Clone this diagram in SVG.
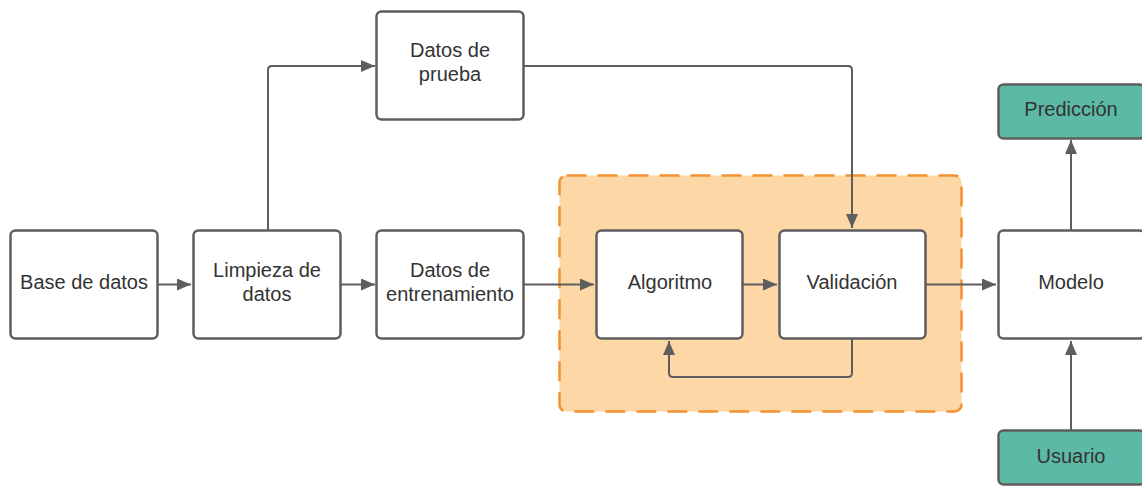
<svg xmlns="http://www.w3.org/2000/svg" width="1142" height="486" viewBox="0 0 1142 486">
<defs>
<style>
.box{fill:#ffffff;stroke:#5e5e5e;stroke-width:2.5}
.teal{fill:#5cb9a5;stroke:#5e5e5e;stroke-width:2.5}
.t{font-family:"Liberation Sans",Arial,sans-serif;font-size:20px;fill:#333333;text-anchor:middle}
.c{fill:none;stroke:#5e5e5e;stroke-width:2}
</style>
<marker id="ah" viewBox="0 0 14 12" refX="14" refY="6" markerWidth="14" markerHeight="12" markerUnits="userSpaceOnUse" orient="auto">
<path d="M0,0 L14,6 L0,12 Z" fill="#5e5e5e"/>
</marker>
</defs>
<rect width="1142" height="486" fill="#ffffff"/>
<g id="grupo">
<rect x="559.5" y="175.5" width="402" height="236" rx="7" fill="#fdd8a6" stroke="#f29230" stroke-width="2.5" stroke-dasharray="20,11"/>
</g>
<g id="connectors">
<path class="c" d="M158,284.5 H191" marker-end="url(#ah)"/>
<path class="c" d="M341,284.5 H375" marker-end="url(#ah)"/>
<path class="c" d="M523,284.5 H594" marker-end="url(#ah)"/>
<path class="c" d="M743,284.5 H777" marker-end="url(#ah)"/>
<path class="c" d="M926,284.5 H996" marker-end="url(#ah)"/>
<path class="c" d="M268,230 V70 Q268,66 272,66 H375" marker-end="url(#ah)"/>
<path class="c" d="M523,66 H848 Q852,66 852,70 V228" marker-end="url(#ah)"/>
<path class="c" d="M852,339 V373 Q852,377 848,377 H673 Q669,377 669,373 V341" marker-end="url(#ah)"/>
<path class="c" d="M1071,230 V140" marker-end="url(#ah)"/>
<path class="c" d="M1071,430 V341" marker-end="url(#ah)"/>
</g>
<g id="base">
<rect class="box" x="10.5" y="230.5" width="147" height="108" rx="5"/>
<text class="t" x="84" y="289">Base de datos</text>
</g>
<g id="limpieza">
<rect class="box" x="193.5" y="230.5" width="147" height="108" rx="5"/>
<text class="t" x="267" y="277">Limpieza de</text>
<text class="t" x="267" y="301">datos</text>
</g>
<g id="prueba">
<rect class="box" x="376.5" y="11.5" width="147" height="108" rx="5"/>
<text class="t" x="450" y="57">Datos de</text>
<text class="t" x="450" y="81">prueba</text>
</g>
<g id="entrenamiento">
<rect class="box" x="376.5" y="230.5" width="147" height="108" rx="5"/>
<text class="t" x="450" y="277">Datos de</text>
<text class="t" x="450" y="301">entrenamiento</text>
</g>
<g id="algoritmo">
<rect class="box" x="596.5" y="230.5" width="146" height="108" rx="5"/>
<text class="t" x="670" y="289">Algoritmo</text>
</g>
<g id="validacion">
<rect class="box" x="779.5" y="230.5" width="146" height="108" rx="5"/>
<text class="t" x="852" y="289">Validación</text>
</g>
<g id="modelo">
<rect class="box" x="998.5" y="230.5" width="146" height="108" rx="5"/>
<text class="t" x="1071" y="289">Modelo</text>
</g>
<g id="prediccion">
<rect class="teal" x="998.5" y="84.5" width="146" height="54" rx="5"/>
<text class="t" x="1071" y="116">Predicción</text>
</g>
<g id="usuario">
<rect class="teal" x="998.5" y="430.5" width="146" height="54" rx="5"/>
<text class="t" x="1071" y="463">Usuario</text>
</g>
</svg>
